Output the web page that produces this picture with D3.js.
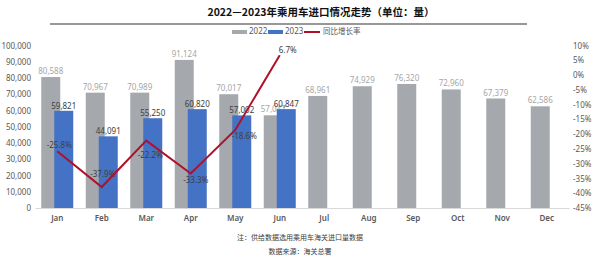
<!DOCTYPE html>
<html>
<head>
<meta charset="utf-8">
<script src="https://cdn.jsdelivr.net/npm/d3@7"></script>
<style>
  body { margin: 0; background: #fff; }
  svg text { font-family: "Noto Sans", "Noto Sans CJK SC", sans-serif; }
</style>
</head>
<body>
<div id="chart"></div>
<script>
// chart data
var months = ["Jan", "Feb", "Mar", "Apr", "May", "Jun", "Jul", "Aug", "Sep", "Oct", "Nov", "Dec"];
var imports2022 = [80588, 70967, 70989, 91124, 70017, 57047, 68961, 74929, 76320, 72960, 67379, 62586];
var imports2023 = [59821, 44091, 55250, 60820, 57002, 60847];
var yoyGrowth = [-25.8, -37.9, -22.2, -33.3, -18.6, 6.7];
var leftTicks = [0, 10000, 20000, 30000, 40000, 50000, 60000, 70000, 80000, 90000, 100000];
var rightTicks = [10, 5, 0, -5, -10, -15, -20, -25, -30, -35, -40, -45];

var width = 600, height = 258;
var gray = "#a5a9ae", blue = "#4472c4", red = "#b0112a";

var svg = d3.select("#chart").append("svg")
  .attr("width", width)
  .attr("height", height);

// title + underline
svg.append("text")
  .attr("x", 321).attr("y", 16)
  .attr("text-anchor", "middle")
  .style("font-family", "'Noto Sans CJK SC', sans-serif")
  .style("font-size", "10.5px").style("font-weight", "bold")
  .attr("fill", "#111")
  .text("2022—2023年乘用车进口情况走势（单位：量）");
svg.append("line")
  .attr("x1", 50).attr("x2", 527).attr("y1", 24).attr("y2", 24)
  .attr("stroke", "#333").attr("stroke-width", 1.2);

// scales
var x = d3.scaleBand().domain(months).range([35, 569]);
var y = d3.scaleLinear().domain([0, 100000]).range([208, 45.5]);
var y2 = d3.scaleLinear().domain([-45, 10]).range([208, 45.5]);

// axes
var leftAxis = d3.axisLeft(y).tickValues(leftTicks).tickSize(0).tickPadding(4)
  .tickFormat(d3.format(","));
svg.append("g").attr("transform", "translate(35,0)").call(leftAxis)
  .call(function(g) { g.select(".domain").remove(); })
  .selectAll("text").style("font-size", "8px").attr("fill", "#595959");

var rightAxis = d3.axisRight(y2).tickValues(rightTicks).tickSize(0).tickPadding(0)
  .tickFormat(function(d) { return d + "%"; });
svg.append("g").attr("transform", "translate(573,0)").call(rightAxis)
  .call(function(g) { g.select(".domain").remove(); })
  .selectAll("text").style("font-size", "8px").attr("fill", "#595959");

var bottomAxis = d3.axisBottom(x).tickSize(0).tickPadding(7);
svg.append("g").attr("transform", "translate(0,208)").call(bottomAxis)
  .call(function(g) { g.select(".domain").attr("stroke", "#d9d9d9"); })
  .selectAll("text").style("font-size", "8px").style("font-weight", "600").attr("fill", "#595959");

// bars, 2022 and 2023 slightly overlapped like the excel chart
var barW = 19;
svg.selectAll(".bar22")
  .data(imports2022)
  .enter().append("rect")
  .attr("class", "bar22")
  .attr("x", function(d, i) { return x(months[i]) + x.bandwidth() / 2 - 16; })
  .attr("y", function(d) { return y(d); })
  .attr("width", barW)
  .attr("height", function(d) { return y(0) - y(d); })
  .attr("fill", gray);

// 2022 labels go under the 2023 bars (jun label is half hidden in the original)
svg.selectAll(".lab22")
  .data(imports2022)
  .enter().append("text")
  .attr("x", function(d, i) { return x(months[i]) + x.bandwidth() / 2 - 16 + barW / 2; })
  .attr("y", function(d) { return y(d) - 3; })
  .attr("text-anchor", "middle")
  .style("font-size", "8px").attr("fill", "#a6a6a6")
  .text(d3.format(","));

svg.selectAll(".bar23")
  .data(imports2023)
  .enter().append("rect")
  .attr("class", "bar23")
  .attr("x", function(d, i) { return x(months[i]) + x.bandwidth() / 2 - 3; })
  .attr("y", function(d) { return y(d); })
  .attr("width", barW)
  .attr("height", function(d) { return y(0) - y(d); })
  .attr("fill", blue);

svg.selectAll(".lab23")
  .data(imports2023)
  .enter().append("text")
  .attr("x", function(d, i) { return x(months[i]) + x.bandwidth() / 2 - 3 + barW / 2; })
  .attr("y", function(d) { return y(d) - 2; })
  .attr("text-anchor", "middle")
  .style("font-size", "8px").attr("fill", "#404040")
  .text(d3.format(","));

// label nudges, copied by eye from the excel layout
var pctDx = [2, 1, 4, 5, 9, 8];
var pctDy = [-5, -12, 15, 7, 7, -4];
svg.selectAll(".labPct")
  .data(yoyGrowth)
  .enter().append("text")
  .attr("x", function(d, i) { return x(months[i]) + x.bandwidth() / 2 + pctDx[i]; })
  .attr("y", function(d, i) { return y2(d) + pctDy[i]; })
  .attr("text-anchor", "middle")
  .attr("dominant-baseline", "middle")
  .style("font-size", "8px").attr("fill", "#404040")
  .text(function(d) { return d.toFixed(1) + "%"; });

// growth line (drawn over the labels)
var line = d3.line()
  .x(function(d, i) { return x(months[i]) + x.bandwidth() / 2; })
  .y(function(d) { return y2(d); });
svg.append("path")
  .datum(yoyGrowth)
  .attr("d", line)
  .attr("fill", "none")
  .attr("stroke", red)
  .attr("stroke-width", 2);

// legend
var legend = svg.append("g").attr("transform", "translate(232,32)");
legend.append("rect").attr("x", 0).attr("y", -2).attr("width", 15).attr("height", 4).attr("fill", gray);
legend.append("text").attr("x", 17).attr("y", 0).attr("dominant-baseline", "middle")
  .style("font-size", "8px").attr("fill", "#595959").text("2022");
legend.append("rect").attr("x", 36).attr("y", -2).attr("width", 15).attr("height", 4).attr("fill", blue);
legend.append("text").attr("x", 53).attr("y", 0).attr("dominant-baseline", "middle")
  .style("font-size", "8px").attr("fill", "#595959").text("2023");
legend.append("line").attr("x1", 72).attr("x2", 88).attr("y1", 0).attr("y2", 0)
  .attr("stroke", red).attr("stroke-width", 2);
legend.append("text").attr("x", 91).attr("y", 0).attr("dominant-baseline", "middle")
  .style("font-family", "'Noto Sans CJK SC', sans-serif")
  .style("font-size", "7.5px").attr("fill", "#595959").text("同比增长率");

// footnotes
svg.append("text")
  .attr("x", 300).attr("y", 240)
  .attr("text-anchor", "middle")
  .style("font-family", "'Noto Sans CJK SC', sans-serif")
  .style("font-size", "7px").attr("fill", "#404040")
  .text("注：供给数据选用乘用车海关进口量数据");
svg.append("text")
  .attr("x", 300).attr("y", 254)
  .attr("text-anchor", "middle")
  .style("font-family", "'Noto Sans CJK SC', sans-serif")
  .style("font-size", "7px").attr("fill", "#404040")
  .text("数据来源：海关总署");
</script>
</body>
</html>
